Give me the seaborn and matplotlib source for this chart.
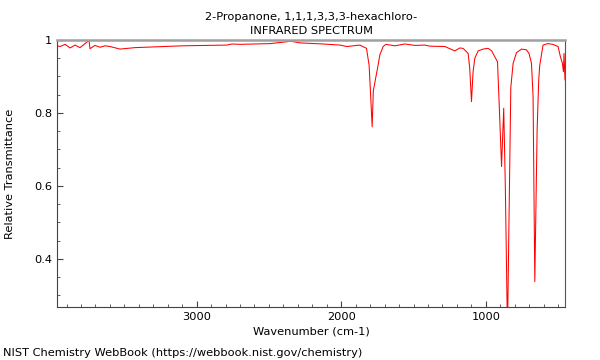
import numpy as np
import pandas as pd
import seaborn as sns
import matplotlib
matplotlib.use("Agg")
import matplotlib.pyplot as plt
from matplotlib.ticker import MultipleLocator, FuncFormatter

# values
wavenumber = [3966, 3945, 3910, 3876, 3841, 3807, 3772, 3744, 3738, 3703,
              3668, 3634, 3599, 3530, 3426, 3095, 2790, 2756, 2701, 2493,
              2376, 2355, 2286, 2127, 2009, 1961, 1871, 1825, 1807, 1798,
              1786, 1778, 1762, 1749, 1733, 1710, 1691, 1629, 1560, 1491,
              1422, 1387, 1283, 1214, 1180, 1157, 1122, 1111, 1099, 1088,
              1076, 1053, 1019, 984, 959, 938, 919, 908, 891, 882,
              876, 865, 850, 838, 827, 811, 788, 753, 719, 701,
              684, 673, 661, 645, 634, 627, 604, 571, 537, 500,
              484, 470, 463, 459, 452]
transmittance = [0.984, 0.982, 0.988, 0.978, 0.986, 0.979, 0.990, 0.999, 0.976, 0.985,
                 0.980, 0.984, 0.982, 0.975, 0.979, 0.984, 0.986, 0.989, 0.988, 0.990,
                 0.995, 0.997, 0.992, 0.989, 0.986, 0.982, 0.986, 0.977, 0.930, 0.860,
                 0.762, 0.860, 0.895, 0.922, 0.959, 0.982, 0.988, 0.984, 0.989, 0.985,
                 0.986, 0.983, 0.982, 0.970, 0.978, 0.977, 0.963, 0.922, 0.831, 0.913,
                 0.950, 0.970, 0.975, 0.977, 0.970, 0.954, 0.940, 0.831, 0.653, 0.750,
                 0.813, 0.600, 0.200, 0.550, 0.870, 0.936, 0.965, 0.975, 0.973, 0.963,
                 0.936, 0.845, 0.338, 0.753, 0.890, 0.930, 0.986, 0.990, 0.988, 0.982,
                 0.954, 0.936, 0.913, 0.963, 0.890]

df = pd.DataFrame({"wavenumber": wavenumber, "transmittance": transmittance})

sns.set_style("ticks")
plt.rcParams["font.family"] = ["DejaVu Sans"]
plt.rcParams["text.color"] = "black"
plt.rcParams["axes.labelcolor"] = "black"
plt.rcParams["xtick.color"] = "black"
plt.rcParams["ytick.color"] = "black"

fs = 8.2
fig = plt.figure(figsize=(6, 3.6), dpi=100)
ax = fig.add_axes([0.095, 0.147, 0.8467, 0.742])
sns.lineplot(data=df, x="wavenumber", y="transmittance", estimator=None,
             sort=False, color="#ff0000", linewidth=0.75, ax=ax)

ax.set_xlim(3966, 452)
ax.set_ylim(0.268, 1.0)
ax.xaxis.set_major_locator(MultipleLocator(1000))
ax.xaxis.set_minor_locator(MultipleLocator(100))
ax.yaxis.set_major_locator(MultipleLocator(0.2))
ax.yaxis.set_minor_locator(MultipleLocator(0.05))
ax.yaxis.set_major_formatter(FuncFormatter(lambda v, p: f"{v:g}"))
ax.tick_params(which="both", direction="in", labelsize=fs, color="#444444")
ax.tick_params(which="major", length=4)
ax.tick_params(which="minor", length=2.5)

ax.spines["top"].set_color("#a0a0a0")
ax.spines["top"].set_linewidth(1.8)
ax.spines["right"].set_color("#555555")
ax.spines["left"].set_color("#444444")
ax.spines["bottom"].set_color("#444444")

ax.set_xlabel("Wavenumber (cm-1)", fontsize=fs, labelpad=3)
ax.set_ylabel("Relative Transmittance", fontsize=fs)
ax.yaxis.set_label_coords(-0.083, 0.5)
ax.set_title("2-Propanone, 1,1,1,3,3,3-hexachloro-\nINFRARED SPECTRUM",
             fontsize=fs, pad=4, linespacing=1.55)
fig.text(0.005, 0.006, "NIST Chemistry WebBook (https://webbook.nist.gov/chemistry)",
         fontsize=fs, ha="left", va="bottom")

fig.savefig("out.png", dpi=100)
